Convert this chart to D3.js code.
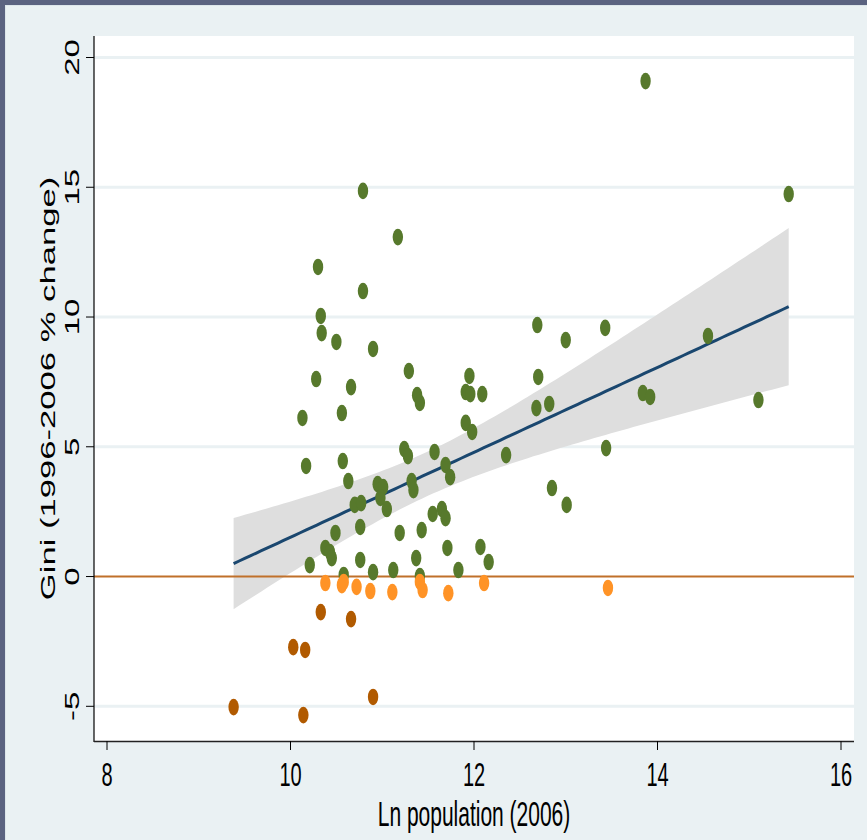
<!DOCTYPE html>
<html>
<head>
<meta charset="utf-8">
<script src="https://cdn.jsdelivr.net/npm/d3@7"></script>
<style>
  html, body { margin: 0; padding: 0; background: #5b6380; }
  svg { display: block; }
  text { font-family: "Liberation Sans", Arial, Helvetica, sans-serif; fill: #000; }
</style>
</head>
<body>
<svg id="chart" width="867" height="840"></svg>
<script>
// ---- Data ----
// Gini change > 0
const posX = [13.87,15.43,10.79,11.17,10.30,10.79,10.33,10.34,10.50,10.90,12.69,13.43,13.00,14.55,
  10.28,10.66,11.29,11.38,11.41,11.95,11.91,11.96,12.09,10.13,10.56,11.91,11.98,12.70,12.68,12.82,
  13.84,13.92,15.10,11.24,11.28,11.57,11.69,11.74,12.35,13.44,10.17,10.57,10.63,10.95,11.01,10.98,
  11.32,11.34,10.70,10.77,11.05,11.55,11.65,11.69,12.85,13.01,10.76,10.49,11.19,11.43,10.38,10.43,
  10.45,10.76,10.21,11.37,11.71,12.07,12.16,11.83,10.58,10.90,11.12,11.41];
const posY = [19.09,14.74,14.86,13.08,11.93,11.00,10.04,9.38,9.04,8.77,9.69,9.58,9.11,9.27,
  7.61,7.30,7.92,6.99,6.69,7.73,7.11,7.03,7.03,6.11,6.30,5.92,5.57,7.69,6.49,6.65,
  7.07,6.92,6.80,4.91,4.64,4.80,4.30,3.83,4.68,4.95,4.26,4.45,3.68,3.56,3.45,3.03,
  3.68,3.33,2.76,2.83,2.60,2.41,2.60,2.25,3.41,2.76,1.91,1.68,1.68,1.79,1.10,0.94,
  0.71,0.64,0.44,0.71,1.10,1.14,0.56,0.25,0.06,0.17,0.25,0.02];
// Small decrease (between -1 and 0)
const smallNegX = [10.38,10.56,10.58,10.72,10.87,11.11,11.41,11.44,11.72,12.11,13.46];
const smallNegY = [-0.25,-0.33,-0.21,-0.40,-0.56,-0.60,-0.21,-0.52,-0.64,-0.25,-0.44];
// Larger decrease (below -1)
const bigNegX = [9.38,10.03,10.16,10.14,10.33,10.66,10.90];
const bigNegY = [-5.03,-2.72,-2.83,-5.34,-1.37,-1.64,-4.64];

const xTicks = [8, 10, 12, 14, 16];
const yTicks = [-5, 0, 5, 10, 15, 20];
const xTitle = "Ln population (2006)";
const yTitle = "Gini (1996-2006 % change)";

// ---- Layout ----
const W = 867, H = 840;
const plot = { left: 94, right: 854, top: 36, bottom: 741 };
const STRETCH = 1.65; // the original picture is stretched vertically
const svg = d3.select("#chart");

// frame
svg.append("rect").attr("x", 0).attr("y", 0).attr("width", W).attr("height", H).attr("fill", "#5b6380");
svg.append("rect").attr("x", 5).attr("y", 5).attr("width", W - 5).attr("height", H - 5).attr("fill", "#dde6ea");
svg.append("rect").attr("x", 6).attr("y", 6).attr("width", W - 6).attr("height", H - 6).attr("fill", "#eaf1f3");
svg.append("rect").attr("x", plot.left).attr("y", plot.top)
  .attr("width", plot.right - plot.left).attr("height", plot.bottom - plot.top).attr("fill", "#ffffff");

const x = d3.scaleLinear().domain([8, 16]).range([107, 841]);
const y = d3.scaleLinear().domain([-5, 20]).range([706.3, 57.5]);

// gridlines
svg.append("g").selectAll("line").data(yTicks.filter(d => d !== 0)).join("line")
  .attr("x1", plot.left).attr("x2", plot.right)
  .attr("y1", d => y(d)).attr("y2", d => y(d))
  .attr("stroke", "#eaf1f3").attr("stroke-width", 3);

// ---- linear fit with 95% CI (lfitci) ----
const allX = posX.concat(smallNegX, bigNegX);
const allY = posY.concat(smallNegY, bigNegY);
const n = allX.length;
const xbar = d3.mean(allX), ybar = d3.mean(allY);
let sxx = 0, sxy = 0;
for (let i = 0; i < n; i++) { sxx += (allX[i] - xbar) ** 2; sxy += (allX[i] - xbar) * (allY[i] - ybar); }
const b = sxy / sxx, a = ybar - b * xbar;
let ssr = 0;
for (let i = 0; i < n; i++) ssr += (allY[i] - a - b * allX[i]) ** 2;
const s2 = ssr / (n - 2);
const tcrit = 1.987;
const [xmin, xmax] = d3.extent(allX);
const grid = d3.range(0, 101).map(i => xmin + (xmax - xmin) * i / 100);
const fit = grid.map(xv => {
  const yh = a + b * xv;
  const se = Math.sqrt(s2 * (1 / n + (xv - xbar) ** 2 / sxx));
  return { x: xv, y: yh, lo: yh - tcrit * se, hi: yh + tcrit * se };
});

svg.append("path").datum(fit)
  .attr("d", d3.area().x(d => x(d.x)).y0(d => y(d.lo)).y1(d => y(d.hi)))
  .attr("fill", "#dedede");

svg.append("path").datum(fit)
  .attr("d", d3.line().x(d => x(d.x)).y(d => y(d.y)))
  .attr("fill", "none").attr("stroke", "#1a476f").attr("stroke-width", 3);

// zero reference line
svg.append("line").attr("x1", plot.left).attr("x2", plot.right)
  .attr("y1", y(0)).attr("y2", y(0)).attr("stroke", "#c0702a").attr("stroke-width", 2);

// ---- markers ----
function drawSeries(xs, ys, color) {
  svg.append("g").selectAll("ellipse").data(xs.map((v, i) => [v, ys[i]])).join("ellipse")
    .attr("cx", d => x(d[0])).attr("cy", d => y(d[1]))
    .attr("rx", 5.2).attr("ry", 8.3)
    .attr("fill", color);
}
drawSeries(posX, posY, "#57792c");
drawSeries(smallNegX, smallNegY, "#ff9326");
drawSeries(bigNegX, bigNegY, "#b15a00");

// ---- axes ----
svg.append("line").attr("x1", plot.left).attr("x2", plot.left)
  .attr("y1", plot.top).attr("y2", plot.bottom + 1).attr("stroke", "#000").attr("stroke-width", 1.2);
svg.append("line").attr("x1", plot.left).attr("x2", plot.right)
  .attr("y1", plot.bottom + 0.5).attr("y2", plot.bottom + 0.5).attr("stroke", "#222").attr("stroke-width", 1.5);

// y ticks
svg.append("g").selectAll("line").data(yTicks).join("line")
  .attr("x1", plot.left - 8).attr("x2", plot.left)
  .attr("y1", d => y(d)).attr("y2", d => y(d)).attr("stroke", "#000").attr("stroke-width", 1);
svg.append("g").selectAll("text").data(yTicks).join("text")
  .attr("transform", d => `translate(79,${y(d)}) rotate(-90) scale(${STRETCH},1)`)
  .attr("text-anchor", "middle").attr("font-size", 20)
  .text(d => d);

// x ticks
svg.append("g").selectAll("line").data(xTicks).join("line")
  .attr("x1", d => x(d)).attr("x2", d => x(d))
  .attr("y1", plot.bottom).attr("y2", plot.bottom + 9).attr("stroke", "#000").attr("stroke-width", 1);
svg.append("g").selectAll("text").data(xTicks).join("text")
  .attr("transform", d => `translate(${x(d)},786) scale(1,${STRETCH})`)
  .attr("text-anchor", "middle").attr("font-size", 20)
  .text(d => d);

// titles
svg.append("text")
  .attr("transform", `translate(${(107 + 841) / 2},826) scale(1,${STRETCH})`)
  .attr("text-anchor", "middle").attr("font-size", 21)
  .text(xTitle);
svg.append("text")
  .attr("transform", `translate(55,${(plot.top + plot.bottom) / 2}) rotate(-90) scale(${STRETCH},1)`)
  .attr("text-anchor", "middle").attr("font-size", 21)
  .text(yTitle);
</script>
</body>
</html>
